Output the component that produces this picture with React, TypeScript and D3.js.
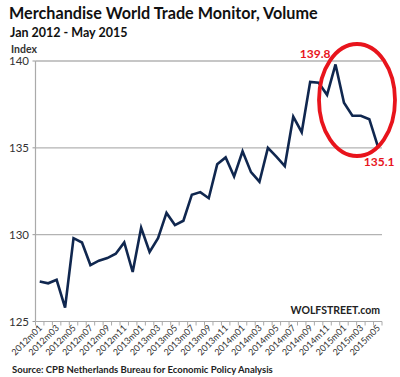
import React from "react";
import * as d3 from "d3";

const months: string[] = [];
for (let y = 2012; y <= 2015; y++) {
  for (let m = 1; m <= 12; m++) {
    if (y === 2015 && m > 5) break;
    months.push(`${y}m${m < 10 ? "0" + m : m}`);
  }
}

const values = [
  127.3, 127.2, 127.4, 125.8, 129.8, 129.55, 128.25, 128.5, 128.65, 128.9,
  129.55, 127.85, 130.4, 129.0, 129.8, 131.25, 130.55, 130.8, 132.3, 132.45,
  132.1, 134.05, 134.45, 133.35, 134.8, 133.6, 133.05, 135.0, 134.5, 133.95,
  136.8, 135.9, 138.8, 138.75, 138.05, 139.8, 137.6, 136.85, 136.85, 136.65,
  135.1,
];

const yTicks = [125, 130, 135, 140];

const W = 400;
const H = 377;
const left = 35.5;
const right = 382;
const top = 61;
const bottom = 321.5;

export default function App() {
  const x = d3
    .scaleBand<string>()
    .domain(months)
    .range([left, right])
    .paddingInner(0)
    .paddingOuter(0);
  const y = d3.scaleLinear().domain([125, 140]).range([bottom, top]);
  const cx = (m: string) => (x(m) as number) + x.bandwidth() / 2;

  const line = d3
    .line<number>()
    .x((_, i) => cx(months[i]))
    .y((d) => y(d))
    .curve(d3.curveLinear);

  const font = "Lato, 'Open Sans', sans-serif";
  const maxI = values.indexOf(d3.max(values) as number);
  const lastI = values.length - 1;

  return (
    <svg
      width={W}
      height={H}
      style={{ position: "absolute", left: 0, top: 0, background: "#fff" }}
      fontFamily={font}
    >
      <rect width={W} height={H} fill="#fff" />
      <text x={9} y={19} fontSize={16.2} fontWeight={700} fill="#111">
        Merchandise World Trade Monitor, Volume
      </text>
      <text x={10} y={37} fontSize={12.5} fontWeight={700} fill="#111">
        Jan 2012 - May 2015
      </text>
      <text x={11} y={53} fontSize={10.5} fontWeight={700} fill="#333">
        Index
      </text>

      {yTicks.map((t) => (
        <g key={t}>
          {t !== 125 && (
            <line x1={left} x2={right} y1={y(t)} y2={y(t)} stroke="#b3b3b3" strokeWidth={1.3} />
          )}
          <line x1={left - 3} x2={left} y1={y(t)} y2={y(t)} stroke="#999" strokeWidth={1} />
          <text x={29} y={y(t) + 4} fontSize={11.5} textAnchor="end" fill="#333">
            {t}
          </text>
        </g>
      ))}

      <line x1={left} x2={left} y1={top} y2={bottom} stroke="#aaa" strokeWidth={1.2} />
      <line x1={left} x2={right} y1={bottom} y2={bottom} stroke="#aaa" strokeWidth={1.2} />
      {months.map((m) => (
        <line
          key={"t" + m}
          x1={x(m) as number}
          x2={x(m) as number}
          y1={bottom}
          y2={bottom + 4}
          stroke="#aaa"
          strokeWidth={1}
        />
      ))}
      <line x1={right} x2={right} y1={bottom} y2={bottom + 4} stroke="#aaa" strokeWidth={1} />

      {months.map((m, i) =>
        i % 2 === 0 ? (
          <text
            key={"l" + m}
            transform={`translate(${cx(m) + 3},${bottom + 7}) rotate(-45)`}
            fontSize={9}
            textAnchor="end"
            fill="#333"
          >
            {m}
          </text>
        ) : null
      )}

      <path
        d={line(values) as string}
        fill="none"
        stroke="#10274f"
        strokeWidth={2.6}
        strokeLinejoin="miter"
      />

      <ellipse
        cx={357}
        cy={100}
        rx={38}
        ry={56}
        fill="none"
        stroke="#e8141c"
        strokeWidth={3.8}
      />
      <text
        x={cx(months[maxI]) - 5}
        y={y(values[maxI]) - 6}
        fontSize={12}
        fontWeight={700}
        fill="#e8141c"
        textAnchor="end"
      >
        {values[maxI].toFixed(1)}
      </text>
      <text
        x={cx(months[lastI]) - 14}
        y={y(values[lastI]) + 20}
        fontSize={12}
        fontWeight={700}
        fill="#e8141c"
      >
        {values[lastI].toFixed(1)}
      </text>

      <text x={380} y={314} fontSize={10.5} fontWeight={700} fill="#222" textAnchor="end">
        WOLFSTREET.com
      </text>
      <text x={12} y={373} fontSize={9.5} fontWeight={700} fill="#222">
        Source: CPB Netherlands Bureau for Economic Policy Analysis
      </text>
    </svg>
  );
}
